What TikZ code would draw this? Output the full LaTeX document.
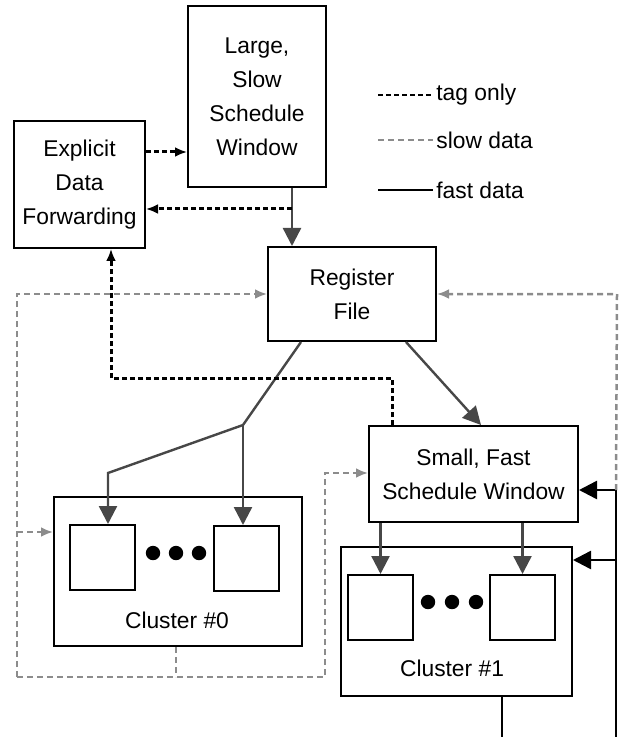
\documentclass[tikz,border=0pt]{standalone}
\usepackage{fontspec}
\setmainfont{Liberation Sans}
\usetikzlibrary{arrows.meta}
\usetikzlibrary{positioning}
\tikzset{>={Triangle[length=9pt,width=9pt]}}
\tikzset{
  box/.style={draw, line width=1pt, inner sep=0pt, align=center},
  pe/.style={draw, line width=1pt, inner sep=0pt, minimum size=32.5pt},
  fast/.style={draw=black!72, line width=1.2pt, ->},
  bus/.style={draw=black, line width=1.25pt},
  slow/.style={draw=black!45, line width=1.25pt, dash pattern=on 3pt off 2pt, -{Latex[length=6pt,width=5pt]}},
  tag/.style={draw=black, line width=1.5pt, dash pattern=on 2.5pt off 1.5pt, -{Latex[length=6pt,width=5pt]}},
  legend/.style={right, inner sep=1.5pt}
}

\begin{document}
\begin{tikzpicture}[x=0.5pt, y=-0.5pt, every node/.style={font=\fontsize{11.4}{17}\selectfont}]
      \useasboundingbox (0,0) rectangle (621,737);

      % boxes
      \node[box, minimum width=69pt, minimum height=90.5pt] (large) at (257,96.5) {Large,\\Slow\\Schedule\\Window};
      \node[box, minimum width=65.5pt, minimum height=63.5pt] (edf) at (79.5,184.5) {Explicit\\Data\\Forwarding};
      \node[box, minimum width=84pt, minimum height=47pt] (rf) at (352,294) {Register\\File};
      \node[box, minimum width=104.5pt, minimum height=48pt] (sf) at (473.5,474) {Small, Fast\\Schedule Window};
      \node[box, minimum width=124pt, minimum height=74.5pt] (cl0) at (178,571.5) {};
      \node[box, minimum width=115.5pt, minimum height=74.5pt] (cl1) at (456.5,621.5) {};

      \node[pe] (pe00) at (102,557.5) {};
      \node[pe] (pe01) at (246,558.5) {};
      \node[pe] (pe10) at (380.5,607.5) {};
      \node[pe] (pe11) at (522.5,607.5) {};
      \foreach \x in {153,176,199} \fill (\x,553) circle (3.6pt);
      \foreach \x in {428,452,476} \fill (\x,602) circle (3.6pt);

      \node (lab0) at (177,620) {Cluster \#0};
      \node (lab1) at (452,668) {Cluster \#1};

      % legend
      \coordinate (lg1) at (378,95);
      \coordinate (lg2) at (378,140);
      \coordinate (lg3) at (378,190);
      \node[legend] (lgtag) at (433,95) {tag only};
      \node[legend] (lgslow) at (433,140) {slow data};
      \node[legend] (lgfast) at (433,190) {fast data};
      \draw[tag, -, line width=0.9pt] (lg1) -- (lgtag.west);
      \draw[slow, -, line width=0.9pt] (lg2) -- (lgslow.west);
      \draw[bus] (lg3) -- (lgfast.west);

      % fast data
      \coordinate (lsd) at ([xshift=17.5pt]large.south);
      \draw[fast] (lsd) -- (lsd |- rf.north);
      \coordinate (rfa) at ([xshift=-25.5pt]rf.south);
      \coordinate (br) at (243,425);
      \coordinate (br0) at (108,473);
      \draw[fast] (rfa) -- (br) -- (br0) -- (br0 |- pe00.north);
      \draw[fast] (br) -- (br |- pe01.north);
      \draw[fast] ([xshift=27pt]rf.south) -- ([xshift=3.75pt]sf.north);
      \draw[fast] (pe10 |- sf.south) -- (pe10.north);
      \draw[fast] (pe11 |- sf.south) -- (pe11.north);

      \coordinate (busb) at (616,737);
      \coordinate (bus1) at (616,490);
      \coordinate (bus2) at (616,560);
      \coordinate (out1) at (502,737);
      \draw[bus, ->] (busb) -- (bus1) -- (bus1 -| sf.east);
      \draw[bus, ->] (bus2) -- (bus2 -| cl1.east);
      \draw[bus] (cl1.south -| out1) -- (out1);

      % slow data
      \coordinate (sl) at (17,294);
      \coordinate (slb) at (17,677);
      \coordinate (s0) at (17,532);
      \coordinate (c0b) at (176,677);
      \coordinate (sr) at (325,677);
      \coordinate (srt) at (325,473);
      \coordinate (sru) at (617,294);
      \draw[slow, -] (cl0.south -| c0b) -- (c0b);
      \draw[slow] (slb) -- (sl) -- (sl -| rf.west);
      \draw[slow] (slb) -- (sr) -- (srt) -- (srt -| sf.west);
      \draw[slow] (s0) -- (s0 -| cl0.west);
      \draw[slow] (bus1) -- (sru) -- (sru -| rf.east);

      % tag only
      \coordinate (t1) at (0,152);
      \draw[tag] (edf.east |- t1) -- (large.west |- t1);
      \coordinate (t2) at ([yshift=-10.5pt]lsd);
      \draw[tag] (t2) -- (t2 -| edf.east);
      \coordinate (t3) at (392,378);
      \coordinate (t4) at (111,378);
      \draw[tag] (t3 |- sf.north) -- (t3) -- (t4) -- (t4 |- edf.south);

    \end{tikzpicture}
\end{document}
